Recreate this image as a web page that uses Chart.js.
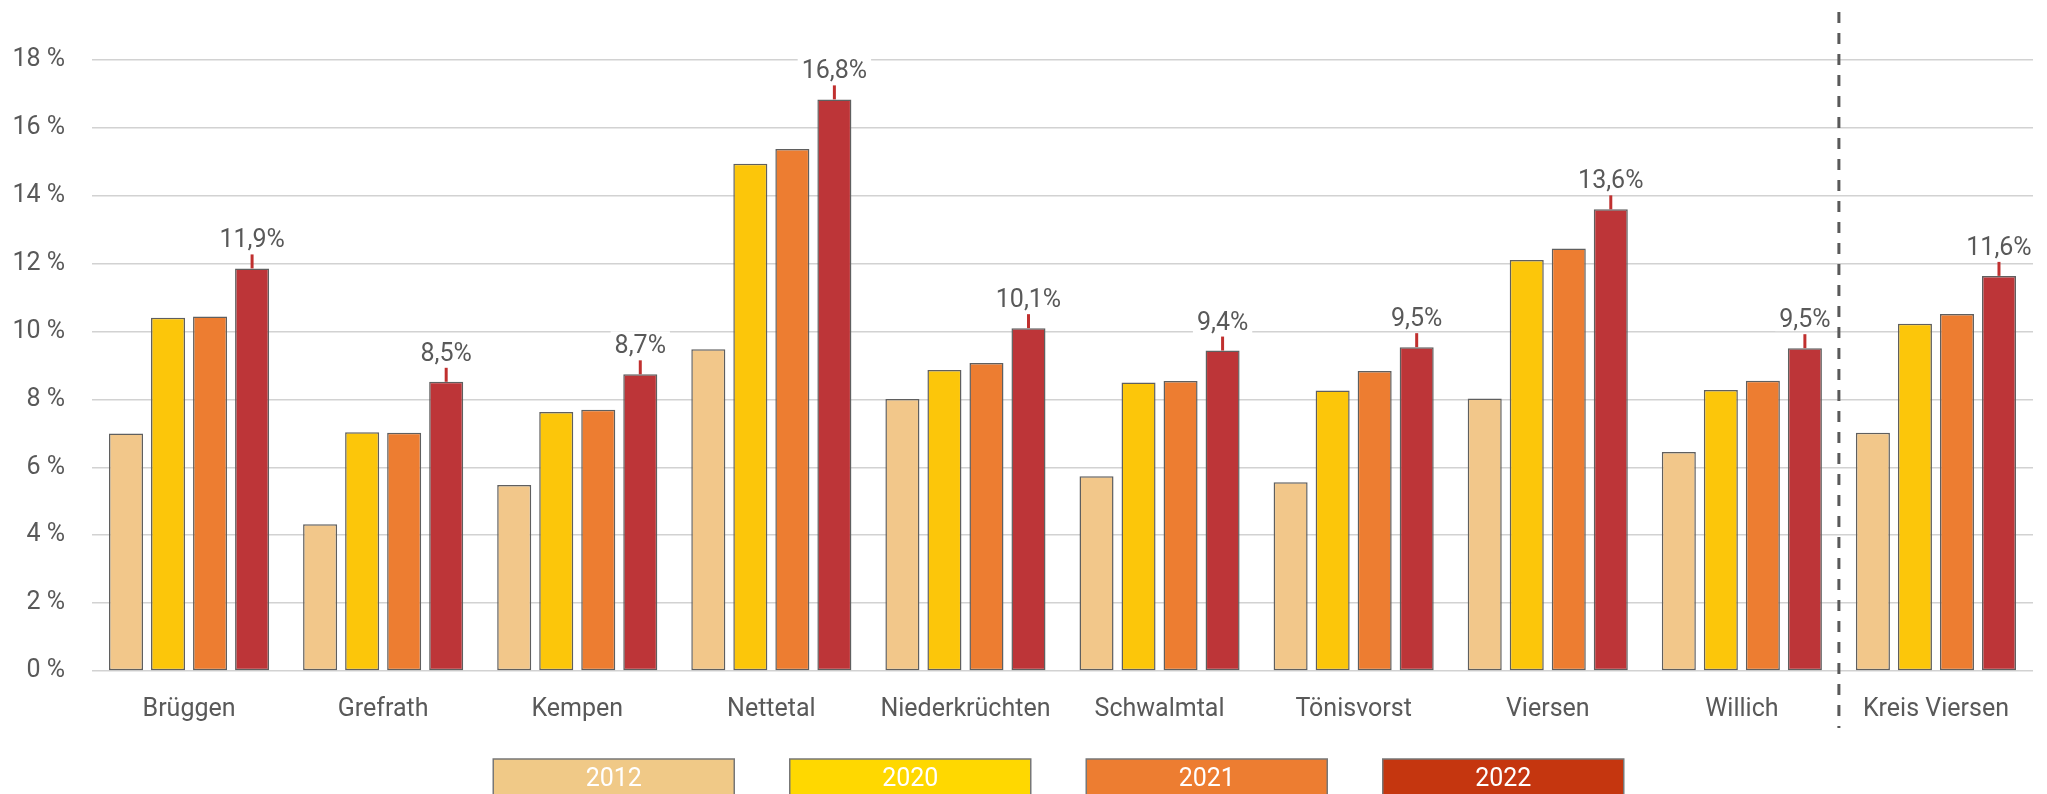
<!DOCTYPE html>
<html>
<head>
<meta charset="utf-8">
<script src="https://cdn.jsdelivr.net/npm/chart.js@4.4.1/dist/chart.umd.min.js"></script>
<style>
  html, body { margin: 0; padding: 0; background: #fff; }
  #wrap { width: 2047px; height: 794px; position: relative; }
</style>
</head>
<body>
<div id="wrap"><canvas id="myChart"></canvas></div>
<script>
const orte = ['Brüggen', 'Grefrath', 'Kempen', 'Nettetal', 'Niederkrüchten', 'Schwalmtal', 'Tönisvorst', 'Viersen', 'Willich', 'Kreis Viersen'];
const jahre = ['2012', '2020', '2021', '2022'];
const werte2012 = [7.0, 4.32, 5.48, 9.48, 8.01, 5.74, 5.56, 8.03, 6.45, 7.02];
const werte2020 = [10.41, 7.03, 7.63, 14.94, 8.87, 8.5, 8.26, 12.11, 8.28, 10.23];
const werte2021 = [10.44, 7.02, 7.7, 15.38, 9.07, 8.54, 8.84, 12.45, 8.55, 10.52];
const werte2022 = [11.86, 8.52, 8.74, 16.84, 10.1, 9.44, 9.54, 13.6, 9.51, 11.64];
const yTicks = [0, 2, 4, 6, 8, 10, 12, 14, 16, 18];

const barFarben = ['#F2C78A', '#FCC60A', '#ED7D31', '#BD3538'];
const legendFarben = ['#F0C987', '#FFD800', '#ED7D31', '#C5360F'];
const grau = '#595959';
const schrift = 'Roboto, "Open Sans", sans-serif';

let ctx = document.getElementById('myChart');

// rote Markierung + Wert über den 2022-Balken
const labels2022 = {
    id: 'labels2022',
    afterDatasetsDraw(chart) {
        let c = chart.ctx;
        let meta = chart.getDatasetMeta(3);
        c.save();
        c.font = '25px ' + schrift;
        c.textAlign = 'center';
        c.textBaseline = 'alphabetic';
        meta.data.forEach(function (bar, i) {
            let txt = werte2022[i].toFixed(1).replace('.', ',') + '%';
            let base = bar.y - 21;
            let w = c.measureText(txt).width;
            c.fillStyle = '#fff';
            c.fillRect(bar.x - w / 2 - 4, base - 22, w + 8, 26);
            c.strokeStyle = '#C0302F';
            c.lineWidth = 3;
            c.beginPath();
            c.moveTo(bar.x, bar.y);
            c.lineTo(bar.x, bar.y - 14);
            c.stroke();
            c.fillStyle = grau;
            c.fillText(txt, bar.x, base);
        });
        c.restore();
    }
};

// gestrichelte Trennlinie vor Kreis Viersen + Legende
const extras = {
    id: 'extras',
    afterDraw(chart) {
        let c = chart.ctx;
        let xs = chart.scales.x;
        let xd = (xs.getPixelForValue(8) + xs.getPixelForValue(9)) / 2;
        c.save();
        c.strokeStyle = grau;
        c.lineWidth = 3;
        c.setLineDash([11, 10]);
        c.beginPath();
        c.moveTo(xd, 12);
        c.lineTo(xd, 728);
        c.stroke();
        c.setLineDash([]);

        let area = chart.chartArea;
        let boxW = 241, gap = 55.5;
        let total = 4 * boxW + 3 * gap;
        let start = (area.left + area.right) / 2 - 4 - total / 2;
        c.font = '25px ' + schrift;
        c.textAlign = 'center';
        c.textBaseline = 'alphabetic';
        jahre.forEach(function (j, i) {
            let x = start + i * (boxW + gap);
            c.fillStyle = legendFarben[i];
            c.fillRect(x, 759, boxW, 50);
            c.strokeStyle = '#777';
            c.lineWidth = 1.5;
            c.strokeRect(x, 759, boxW, 50);
            c.fillStyle = '#fff';
            c.fillText(j, x + boxW / 2, 786);
        });
        c.restore();
    }
};

function makeSet(label, data, i) {
    return {
        label: label,
        data: data,
        backgroundColor: barFarben[i],
        borderColor: '#5f5f5f',
        borderWidth: 1.5,
        borderSkipped: false,
        categoryPercentage: 0.866,
        barPercentage: 0.81
    };
}

let myChart = new Chart(ctx, {
    type: 'bar',
    data: {
        labels: orte,
        datasets: [
            makeSet(jahre[0], werte2012, 0),
            makeSet(jahre[1], werte2020, 1),
            makeSet(jahre[2], werte2021, 2),
            makeSet(jahre[3], werte2022, 3)
        ]
    },
    options: {
        responsive: true,
        maintainAspectRatio: false,
        animation: false,
        devicePixelRatio: 1,
        layout: { padding: { top: 60, right: 14, left: 0, bottom: 0 } },
        plugins: {
            legend: { display: false },
            tooltip: { enabled: false }
        },
        scales: {
            x: {
                grid: { display: false },
                border: { display: false },
                ticks: {
                    color: grau,
                    font: { family: schrift, size: 25 },
                    padding: 16,
                    maxRotation: 0,
                    autoSkip: false
                },
                afterFit: function (s) { s.height = 123; }
            },
            y: {
                min: 0,
                max: 18,
                afterBuildTicks: function (s) { s.ticks = yTicks.map(v => ({ value: v })); },
                grid: { color: '#d2d2d2', lineWidth: 1.5, drawTicks: false },
                border: { display: false },
                ticks: {
                    color: grau,
                    font: { family: schrift, size: 25 },
                    padding: 27,
                    callback: function (v) { return v + ' %'; }
                },
                afterFit: function (s) { s.width = 92; }
            }
        }
    },
    plugins: [labels2022, extras]
});
</script>
</body>
</html>
